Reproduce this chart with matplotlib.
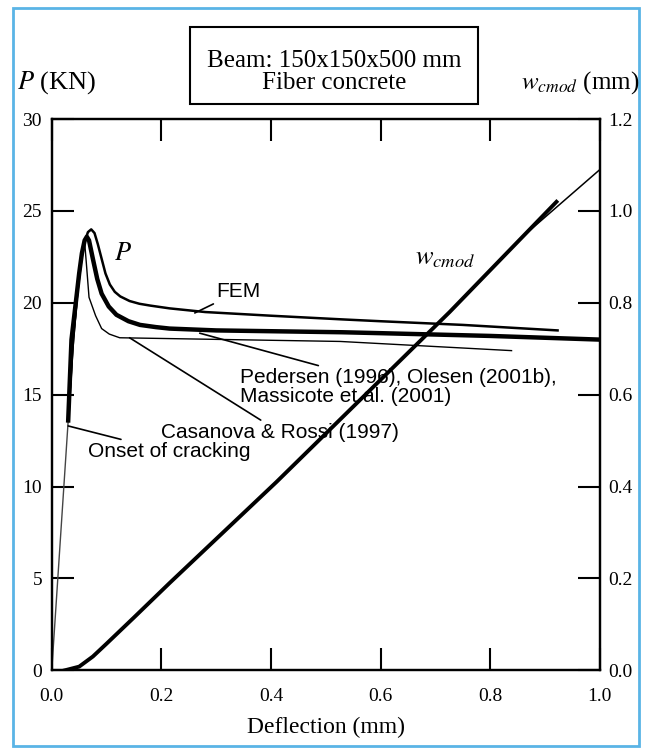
import numpy as np
import matplotlib.pyplot as plt
from matplotlib.patches import Rectangle

plt.rcParams['mathtext.fontset'] = 'stix'

# deflection (mm) / load P (kN)
defl_elastic = [0.0, 0.030]
p_elastic = [0.0, 13.6]

defl_fem = [0.030, 0.038, 0.046, 0.054, 0.060, 0.066, 0.072, 0.078, 0.084, 0.091,
            0.098, 0.106, 0.115, 0.125, 0.142, 0.160, 0.180, 0.215, 0.280, 0.400,
            0.530, 0.600, 0.750, 0.923]
p_fem = [13.6, 17.6, 20.4, 22.4, 23.3, 23.85, 24.0, 23.8, 23.2, 22.4,
         21.6, 21.0, 20.6, 20.35, 20.1, 19.95, 19.85, 19.7, 19.5, 19.3,
         19.1, 19.0, 18.8, 18.5]

defl_ped = [0.030, 0.036, 0.045, 0.050, 0.055, 0.060, 0.064, 0.068, 0.075, 0.083,
            0.091, 0.104, 0.118, 0.140, 0.161, 0.190, 0.215, 0.300, 0.530, 0.600,
            0.800, 1.000]
p_ped = [13.6, 18.0, 20.3, 21.6, 22.7, 23.4, 23.6, 23.4, 22.4, 21.3,
         20.5, 19.8, 19.35, 19.0, 18.8, 18.68, 18.6, 18.5, 18.4, 18.35,
         18.2, 18.0]

defl_cas = [0.030, 0.040, 0.050, 0.056, 0.060, 0.063, 0.068, 0.080, 0.091, 0.105,
            0.124, 0.526, 0.839]
p_cas = [13.6, 18.0, 21.4, 22.9, 23.3, 22.2, 20.3, 19.3, 18.6, 18.3,
         18.1, 17.9, 17.4]

# crack mouth opening (mm), right axis
defl_w = [0.024, 0.050, 0.075, 0.100, 0.150, 0.215, 0.410, 0.726, 0.921]
w_cmod = [0.0, 0.008, 0.030, 0.058, 0.115, 0.190, 0.410, 0.780, 1.020]
defl_w2 = [0.726, 0.860, 1.000]
w_cmod2 = [0.780, 0.945, 1.090]

xticks = [0.0, 0.2, 0.4, 0.6, 0.8, 1.0]
pticks = [0, 5, 10, 15, 20, 25, 30]
wticks = [0.0, 0.2, 0.4, 0.6, 0.8, 1.0, 1.2]

serif = 'Liberation Serif'
sans = 'Liberation Sans'

fig = plt.figure(figsize=(6.47, 7.54), dpi=100)
ax = fig.add_axes([0.080, 0.111, 0.847, 0.731])
ax2 = ax.twinx()

ax.plot(defl_elastic, p_elastic, color='#444444', lw=1.0)
ax.plot(defl_cas, p_cas, color='black', lw=1.0)
ax.plot(defl_fem, p_fem, color='black', lw=1.8)
ax.plot(defl_ped, p_ped, color='black', lw=3.2)

ax2.plot(defl_w2, w_cmod2, color='black', lw=1.1)
ax2.plot(defl_w, w_cmod, color='black', lw=2.8)

ax.set_xlim(0, 1.0)
ax.set_ylim(0, 30)
ax2.set_ylim(0, 1.2)
ax.set_xticks(xticks)
ax.set_xticklabels(['%.1f' % v for v in xticks], family=serif, fontsize=14)
ax.set_yticks(pticks)
ax.set_yticklabels([str(v) for v in pticks], family=serif, fontsize=14)
ax2.set_yticks(wticks)
ax2.set_yticklabels(['%.1f' % v for v in wticks], family=serif, fontsize=14)

ax.tick_params(direction='in', length=16, width=1.5, top=True)
ax.tick_params(axis='x', pad=13)
ax.tick_params(axis='y', pad=7)
ax2.tick_params(direction='in', length=16, width=1.5, pad=6)
for a in (ax, ax2):
    for s in a.spines.values():
        s.set_linewidth(1.6)

ax.set_xlabel('Deflection (mm)', family=serif, fontsize=17, labelpad=8)

# labels on curves
ax.text(0.13, 22.7, '$P$', fontsize=19, ha='center', va='center')
ax2.text(0.717, 0.90, '$w_{cmod}$', fontsize=19, ha='center', va='center')

ann = dict(fontsize=15, family=sans, ha='left', va='center')
line = dict(arrowstyle='-', color='black', lw=1.2, shrinkA=0, shrinkB=0)
ax.annotate('FEM', xy=(0.261, 19.45), xytext=(0.30, 20.6), arrowprops=line, **ann)
ax.annotate('Pedersen (1996), Olesen (2001b),\nMassicote et al. (2001)',
            xy=(0.27, 18.35), xytext=(0.343, 15.4), arrowprops=line,
            linespacing=1.0, **ann)
ax.annotate('Casanova & Rossi (1997)', xy=(0.142, 18.1), xytext=(0.20, 12.95),
            arrowprops=line, **ann)
ax.annotate('Onset of cracking', xy=(0.030, 13.3), xytext=(0.066, 11.9),
            arrowprops=line, **ann)

# axis titles at the top corners
fig.text(0.026, 0.891, '$P$ (KN)', fontsize=19, family=serif, ha='left', va='center')
fig.text(0.988, 0.891, '$w_{cmod}$ (mm)', fontsize=18, family=serif, ha='right', va='center')

# title box
fig.patches.append(Rectangle((0.294, 0.862), 0.445, 0.102, transform=fig.transFigure,
                             fill=False, edgecolor='black', lw=1.5))
fig.text(0.516, 0.919, 'Beam: 150x150x500 mm', fontsize=18, family=serif, ha='center', va='center')
fig.text(0.516, 0.890, 'Fiber concrete', fontsize=18, family=serif, ha='center', va='center')

# light blue frame around the whole picture
fig.patches.append(Rectangle((0.020, 0.011), 0.968, 0.979, transform=fig.transFigure,
                             fill=False, edgecolor='#5ab4e6', lw=2.0))

fig.savefig('out.png', dpi=100)
